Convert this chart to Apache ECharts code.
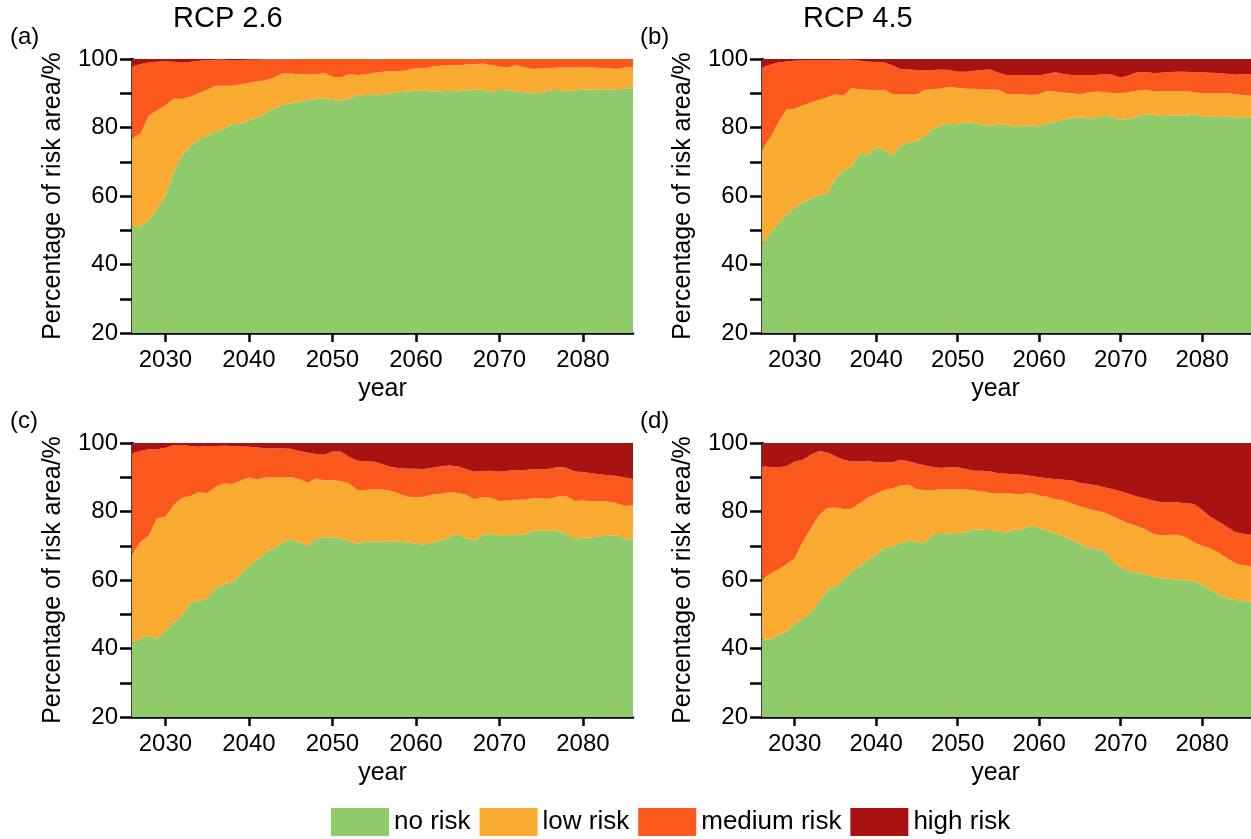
<!DOCTYPE html>
<html>
<head>
<meta charset="utf-8">
<script src="https://cdn.jsdelivr.net/npm/echarts@6/dist/echarts.min.js"></script>
<style>
  html, body { margin: 0; padding: 0; background: #ffffff; }
  #chart { width: 1251px; height: 839px; }
</style>
</head>
<body>
<div id="chart"></div>
<script>
// Simulation years; labels and ticks every ten years
const years = ['2026','2027','2028','2029','2030','2031','2032','2033','2034','2035','2036','2037','2038','2039','2040',
  '2041','2042','2043','2044','2045','2046','2047','2048','2049','2050','2051','2052','2053','2054','2055','2056','2057',
  '2058','2059','2060','2061','2062','2063','2064','2065','2066','2067','2068','2069','2070','2071','2072','2073','2074',
  '2075','2076','2077','2078','2079','2080','2081','2082','2083','2084','2085','2086'];
const yearTicks = ['2030', '2040', '2050', '2060', '2070', '2080'];
const riskClasses = ['no risk', 'low risk', 'medium risk', 'high risk'];
const riskColors = ['#8fcb6b', '#f9aa30', '#fa581c', '#a81210'];

// (a) RCP 2.6, share of area per risk class (%)
const aNoRisk = [51,51,53,56,60,67,72,74.5,76.5,77.5,79,79.5,81,81,82,83,84,85.5,86.5,87,87.5,88,88.3,88.5,88,
  87.8,88.5,89.3,89.5,89.5,89.8,90,90.3,90.5,90.8,90.7,90.5,90.6,90.7,90.6,90.8,91,91,90.2,91,90.8,90.5,90.3,
  89.9,90.3,90.8,91,90.6,90.8,91.2,91,91.2,91.2,91.1,91.3,91.4];
const aLowRisk = [26,27,30.5,29,26.5,21.5,16.3,14.5,13.5,13.5,13.2,12.7,11.2,11.6,11,10.5,9.8,9,9.3,8.8,8,7.6,7.2,7.5,
  6.8,6.8,7.1,6,6,6.5,6.5,6.5,6.1,6.3,6.5,6.6,7.3,7.4,7.5,7.5,7.6,7.5,7.7,8,6.8,6.7,7.7,7.3,7.2,6.9,6.5,6.5,7,
  6.7,6.3,6.6,6.2,6.1,6,6.2,6.2];
const aMediumRisk = [20.8,20.5,15.5,14.2,12.8,10.7,10.6,10.2,9.5,8.6,7.6,7.6,7.4,7.1,6.8,6.3,6.1,5.4,4.1,4.1,4.5,4.4,
  4.5,4,5.2,5.4,4.4,4.7,4.5,3.9,3.7,3.5,3.6,3.2,2.7,2.7,2.2,2,1.8,1.9,1.6,1.5,1.3,1.8,2.2,2.5,1.8,2.4,2.9,2.8,2.7,
  2.5,2.4,2.5,2.5,2.4,2.6,2.7,2.9,2.5,2.4];
const aHighRisk = [2.2,1.5,1,0.8,0.7,0.8,1.1,0.8,0.5,0.4,0.2,0.2,0.4,0.3,0.2,0.2,0.1,0.1,0.1,0.1,0,0,0,0,0,0,0,0,0,
  0.1,0,0,0,0,0,0,0,0,0,0,0,0,0,0,0,0,0,0,0,0,0,0,0,0,0,0,0,0,0,0,0];

// (b) RCP 4.5
const bNoRisk = [46,49,52,54.5,56.5,58,59.3,60.2,60.5,65,67.5,68.5,72.5,72,74.3,73.5,71.8,74.7,75.5,76,77.5,79.5,80.8,
  81,81,81.5,81.3,80.8,80.5,80.8,80.8,80.3,80.5,80.6,80.3,81.2,81.5,82.3,82.8,83.1,82.6,82.8,83.5,83.1,82.2,82.5,
  83.2,83.8,83.7,83.3,83.4,83.6,83.4,83.8,83.3,83.2,83,83.2,83,83,83];
const bLowRisk = [27.5,28,29.5,30.8,29,28.5,28,27.8,28.3,24.7,21.8,23,18.7,19,16.5,17.5,18,15,14.3,13.6,13.5,11.7,
  10.6,10.9,10.5,9.8,10,10.4,10.5,10.2,9,9.5,9.3,8.9,9.5,9.5,9,7.9,7.2,6.6,7.6,7.7,6.9,6.9,7.8,7.8,7.5,7.2,6.9,7.2,
  7.2,7,7.2,6.6,6.7,6.8,7,6.8,6.8,6.5,6.3];
const bMediumRisk = [24,21.3,17.5,14,14,13.1,12.4,11.7,10.9,10,10.5,8.3,8.3,8.2,8.3,8,8.4,7.4,7.1,7.2,5.8,5.6,5.5,4.9,
  4.8,5,5.3,5.6,5.9,5,5.5,5.5,5.5,5.8,5.4,5,5.6,5.4,5.3,5.6,5.1,4.8,5.2,5.4,4.6,4.9,5.4,5.2,5.3,5.5,5.6,5.7,5.7,5.7,
  6.1,6,5.9,5.7,5.6,6.1,6.3];
const bHighRisk = [2.5,1.7,1,0.7,0.5,0.4,0.3,0.3,0.3,0.3,0.2,0.2,0.5,0.8,0.9,1,1.8,2.9,3.1,3.2,3.2,3.2,3.1,3.2,3.7,
  3.7,3.4,3.2,3.1,4,4.7,4.7,4.7,4.7,4.8,4.3,3.9,4.4,4.7,4.7,4.7,4.7,4.4,4.6,5.4,4.8,3.9,3.8,4.1,4,3.8,3.7,3.7,3.9,
  3.9,4,4.1,4.3,4.6,4.4,4.4];

// (c)
const cNoRisk = [41.5,43,43.8,42.8,45,47.5,49.5,53.5,53.8,54.5,57.5,58.8,59.3,61.5,64,66,68,69.2,70.8,71.8,71,70,72,
  72.5,72.5,72.2,71.3,70.6,71.3,71.2,71.2,71.3,71.1,71,70.6,70.4,71,71.5,72.4,73.4,72.2,71.5,73.1,73.5,72.8,73.2,
  73.1,73.3,74.3,74.5,74.5,74.3,73.5,72,72.3,72.4,72.7,73,73,71.9,71.9];
const cLowRisk = [26,28,29.2,35.2,33.5,34.5,34.5,31,31.9,30.8,29.7,29.4,28.7,27.5,25.9,23.4,21.9,20.8,19.3,18.3,18.5,
  18.4,17.6,16.6,16.6,16.7,16.9,15.7,15,15.3,15.2,14.7,14.1,13.3,13.6,13.9,14,13.7,13.3,12,12.7,12.1,11.1,10.5,
  10.2,10.1,10.3,10.1,9.6,9.3,9.2,10.1,11,11.1,10.9,10.6,10.3,9.9,9.5,9.7,10];
const cMediumRisk = [29.5,26.7,25.2,20.2,20.1,17.4,15.4,14.6,13.2,13.8,11.9,11,11.1,10,9,9.3,8.6,8.5,8.3,8.2,8.2,8.8,
  7.2,7.5,8.4,8.6,7.8,8.5,8.4,8,7.4,7,7.4,8.2,8.3,8.1,7.8,8,7.7,7.8,7.5,8,7.6,7.9,8.6,8.6,8.7,8.7,8.4,8.5,8.8,8.6,
  8.3,8.6,8.3,8.2,7.9,7.7,7.9,8.3,7.6];
const cHighRisk = [3,2.3,1.8,1.8,1.4,0.6,0.6,0.9,1.1,0.9,0.9,0.8,0.9,1,1.1,1.3,1.5,1.5,1.6,1.7,2.3,2.8,3.2,3.4,2.5,2.5,
  4,5.2,5.3,5.5,6.2,7,7.4,7.5,7.5,7.6,7.2,6.8,6.6,6.8,7.6,8.4,8.2,8.1,8.4,8.1,7.9,7.9,7.7,7.7,7.5,7,7.2,8.3,8.5,
  8.8,9.1,9.4,9.6,10.1,10.5];

// (d)
const dNoRisk = [42.6,42.6,43.9,45,47.1,48.8,50.2,53.7,56.9,58,60,62.4,63.9,66,67.3,69.3,69.8,70.7,71.5,71.2,70.7,
  73.4,73.4,73.5,73.7,73.9,74.8,74.7,74.6,74.1,73.9,74.6,74.8,75.8,75.3,74.4,73.6,72.8,71.6,70.6,69.4,69.1,68.4,
  65.5,63.7,62.5,62.2,61.6,60.9,60.5,60.3,59.9,59.9,59.6,58.6,57.2,55.7,54.7,54.2,53.8,53.5];
const dLowRisk = [17.4,19.2,19.2,19.6,19.2,22.4,24.9,25.3,24.1,23.2,20.7,18.4,18.5,18.1,17.9,17,17,16.9,16.3,15.3,
  15.6,12.9,13.1,13,12.9,12.6,11.3,11.2,10.8,11.3,11.5,10.5,10.3,9.6,9.4,9.9,10,10.4,10.7,10.9,11.4,11.1,11.3,13.2,
  13.8,14,13.6,13.2,12.6,12.5,12.9,13.3,12.6,11.4,11.4,12.1,12.3,11.8,10.8,10.5,10.5];
const dMediumRisk = [33.2,31.2,29.8,28.6,28.3,23.9,21.5,18.6,16.3,14.9,14.4,13.8,12.2,10.7,9.2,8.1,7.6,7.5,6.8,7.5,
  7.1,6.7,6.2,6.4,6.3,5.9,5.8,6,6.3,5.8,5.6,5.8,5.6,5,5.3,5.4,5.9,6.1,6.8,6.8,7.2,7.5,7.4,7.8,8.4,8.7,8.6,9,9.7,
  9.7,9.5,9.5,9.9,11.2,10.5,9.2,9.1,9.1,9.1,9.2,9.2];
const dHighRisk = [6.8,7,7.1,6.8,5.4,4.9,3.4,2.4,2.7,3.9,4.9,5.4,5.4,5.2,5.6,5.6,5.6,4.9,5.4,6,6.6,7,7.3,7.1,7.1,7.6,
  8.1,8.1,8.3,8.8,9,9.1,9.3,9.6,10,10.3,10.5,10.7,10.9,11.7,12,12.3,12.9,13.5,14.1,14.8,15.6,16.2,16.8,17.3,17.3,
  17.3,17.6,17.8,19.5,21.5,22.9,24.4,25.9,26.5,26.8];

const panels = [
  { tag: '(a)', title: 'RCP 2.6', left: 132, top: 59,  series: [aNoRisk, aLowRisk, aMediumRisk, aHighRisk] },
  { tag: '(b)', title: 'RCP 4.5', left: 762, top: 59,  series: [bNoRisk, bLowRisk, bMediumRisk, bHighRisk] },
  { tag: '(c)', title: '',        left: 132, top: 443, series: [cNoRisk, cLowRisk, cMediumRisk, cHighRisk] },
  { tag: '(d)', title: '',        left: 762, top: 443, series: [dNoRisk, dLowRisk, dMediumRisk, dHighRisk] }
];

const FONT = 'Liberation Sans, Arial, sans-serif';
const plotW = 501, plotH = 274;
const isTickYear = (idx, val) => yearTicks.indexOf(String(val)) >= 0;

const grid = [], xAxis = [], yAxis = [], series = [], graphic = [];
panels.forEach((p, i) => {
  const rightColumn = p.left > 600;
  grid.push({ left: p.left, top: p.top, width: plotW, height: plotH, containLabel: false });
  xAxis.push({
    type: 'category', gridIndex: i, data: years, boundaryGap: false,
    name: 'year', nameLocation: 'middle', nameGap: 44,
    nameTextStyle: { fontFamily: FONT, fontSize: 25, color: '#000',
      padding: rightColumn ? [0, 22, 0, 0] : 0 },
    axisLine: { show: true, lineStyle: { color: '#000', width: 2.5 } },
    axisTick: { show: true, inside: false, length: 9, interval: isTickYear, lineStyle: { color: '#000', width: 2.5 } },
    axisLabel: { show: true, interval: isTickYear, margin: 15, fontFamily: FONT, fontSize: 24, color: '#000' },
    splitLine: { show: false }
  });
  yAxis.push({
    type: 'value', gridIndex: i, min: 20, max: 100, interval: 10,
    name: 'Percentage of risk area/%', nameLocation: 'middle', nameGap: 66, nameRotate: 90,
    nameTextStyle: { fontFamily: FONT, fontSize: 25, color: '#000' },
    axisLine: { show: true, lineStyle: { color: '#000', width: 2.5 } },
    axisTick: { show: true, inside: false, length: 12, lineStyle: { color: '#000', width: 2.5 } },
    axisLabel: { show: true, margin: 14, fontFamily: FONT, fontSize: 24, color: '#000',
      formatter: v => (v % 20 === 0 ? String(v) : '') },
    splitLine: { show: false }
  });
  p.series.forEach((vals, k) => {
    series.push({
      type: 'line', name: riskClasses[k], xAxisIndex: i, yAxisIndex: i,
      stack: 'panel' + i, showSymbol: false, symbol: 'none', smooth: false,
      lineStyle: { width: 0 }, areaStyle: { color: riskColors[k], opacity: 1 },
      itemStyle: { color: riskColors[k] },
      data: vals,
      z: 1
    });
  });
  graphic.push({ type: 'text', left: p.left - 122, top: p.top - 34,
    style: { text: p.tag, font: '24px ' + FONT, fill: '#000' } });
  if (p.title) {
    graphic.push({ type: 'text', left: p.left + 41, top: p.top - 55,
      style: { text: p.title, font: '29px ' + FONT, fill: '#000' } });
  }
});

const chart = echarts.init(document.getElementById('chart'), null, { renderer: 'canvas' });
chart.setOption({
  backgroundColor: '#ffffff',
  animation: false,
  grid, xAxis, yAxis, series, graphic,
  legend: {
    data: riskClasses.map(n => ({ name: n, icon: 'rect' })),
    left: 331, top: 808, padding: 0, itemWidth: 58, itemHeight: 28, itemGap: 9,
    textStyle: { fontFamily: FONT, fontSize: 26, color: '#000' },
    selectedMode: false
  }
});
</script>
</body>
</html>
